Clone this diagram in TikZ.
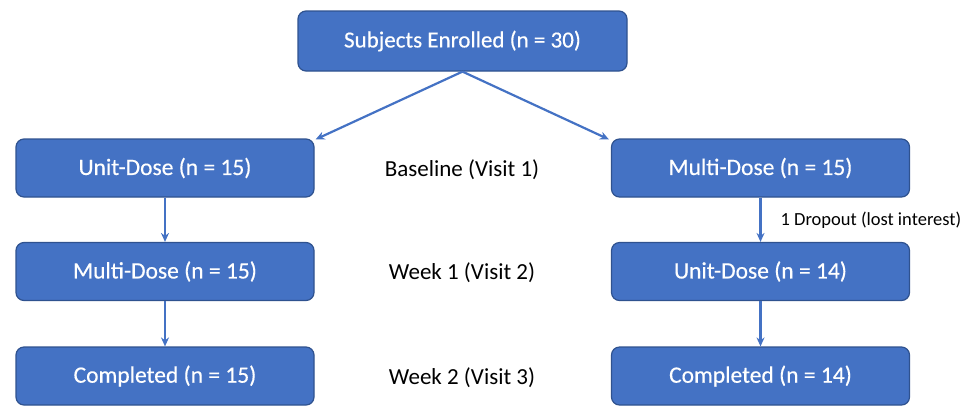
\documentclass[tikz,border=0pt]{standalone}
\usepackage{fontspec}
\setmainfont{Carlito}
\newfontfamily\boxfont{Carlito}[FakeBold=0.35]
\usetikzlibrary{arrows.meta}
\definecolor{boxfill}{HTML}{4472C4}
\definecolor{boxline}{HTML}{2F528F}
\begin{document}
\begin{tikzpicture}[x=1pt,y=-1pt,
  flowbox/.style={draw=boxline, line width=1.2pt, fill=boxfill, rounded corners=8pt,
    text=white, font=\boxfont\fontsize{23.5}{27}\selectfont, minimum width=298pt, minimum height=58pt,
    inner sep=0pt},
  stagelbl/.style={text=black, font=\fontsize{23}{27}\selectfont, inner sep=0pt},
  conn/.style={draw=boxfill, line width=2.2pt, -{Stealth[length=9pt,width=8pt]}}]
\useasboundingbox (0,0) rectangle (965,408);
\node[flowbox, minimum width=329pt, minimum height=60pt, font=\boxfont\fontsize{23}{27}\selectfont] (top) at (462.5,41) {Subjects Enrolled (n = 30)};
\node[flowbox] (lu) at (165,168) {Unit-Dose (n = 15)};
\node[flowbox] (lm) at (165,271.5) {Multi-Dose (n = 15)};
\node[flowbox] (lc) at (165,376) {Completed (n = 15)};
\node[flowbox] (rm) at (760.5,168) {Multi-Dose (n = 15)};
\node[flowbox] (ru) at (760.5,271.5) {Unit-Dose (n = 14)};
\node[flowbox] (rc) at (760.5,376) {Completed (n = 14)};
\node[stagelbl] (s1) at (462,170) {Baseline (Visit 1)};
\node[stagelbl] (s2) at (462,273) {Week 1 (Visit 2)};
\node[stagelbl] (s3) at (462,378) {Week 2 (Visit 3)};
\draw[conn] (top.south) -- ([xshift=1pt,yshift=-1pt]lu.north east);
\draw[conn] (top.south) -- ([xshift=-2pt,yshift=-1pt]rm.north west);
\draw[conn] (lu.south) -- (lm.north);
\draw[conn] (lm.south) -- (lc.north);
\draw[conn] (rm.south) -- (ru.north) node[midway, anchor=west, xshift=19pt, text=black, font=\fontsize{18.5}{22}\selectfont, inner sep=0pt] (drop) {1 Dropout (lost interest)};
\draw[conn] (ru.south) -- (rc.north);
\end{tikzpicture}
\end{document}
